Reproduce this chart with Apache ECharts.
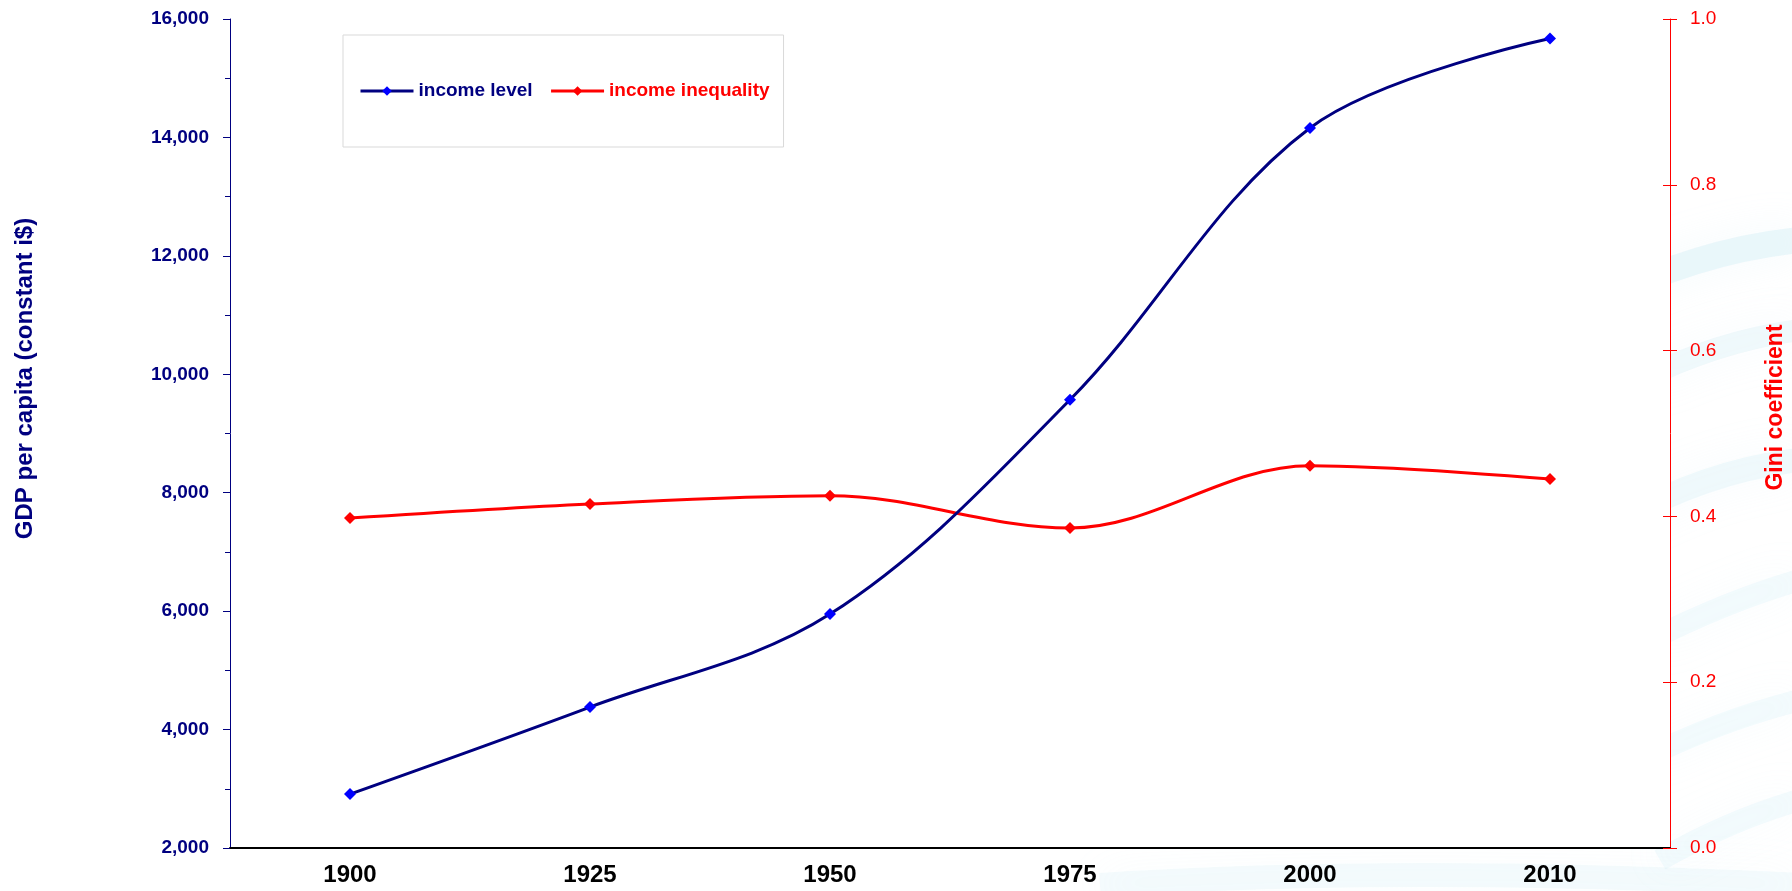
<!DOCTYPE html>
<html>
<head>
<meta charset="utf-8">
<script src="https://cdn.jsdelivr.net/npm/echarts@6/dist/echarts.min.js"></script>
<style>
  html, body { margin: 0; padding: 0; background: #fff; }
  #chart { width: 1792px; height: 891px; }
</style>
</head>
<body>
<div id="chart"></div>
<script>
const categories = ['1900', '1925', '1950', '1975', '2000', '2010'];
const incomeLevel = [2910, 4380, 5950, 9570, 14160, 15670];
const incomeInequality = [0.398, 0.415, 0.425, 0.386, 0.461, 0.445];
const seriesNames = ['income level', 'income inequality'];
const leftAxisTitle = 'GDP per capita (constant i$)';
const rightAxisTitle = 'Gini coefficient';

const NAVY = '#000080';
const RED = '#FF0000';

function swirl(x1, y1, cx, cy, x2, y2, w, op) {
  return {
    type: 'bezierCurve', z: -5, silent: true,
    shape: { x1: x1, y1: y1, cpx1: cx, cpy1: cy, x2: x2, y2: y2 },
    style: { fill: null, stroke: 'rgba(200,234,244,' + op + ')', lineWidth: w,
             shadowBlur: 40, shadowColor: 'rgba(200,234,244,0.5)' }
  };
}

const chart = echarts.init(document.getElementById('chart'), null, { renderer: 'canvas' });
chart.setOption({
  backgroundColor: '#ffffff',
  animation: false,
  graphic: [
    swirl(1600, 300, 1700, 250, 1800, 240, 26, 0.35),
    swirl(1640, 380, 1720, 340, 1800, 330, 22, 0.25),
    swirl(1620, 520, 1710, 470, 1800, 460, 24, 0.25),
    swirl(1650, 640, 1730, 600, 1800, 580, 22, 0.2),
    swirl(1640, 760, 1720, 720, 1800, 700, 22, 0.2),
    swirl(1660, 860, 1730, 820, 1800, 800, 22, 0.2),
    swirl(1100, 885, 1400, 865, 1800, 885, 24, 0.18)
  ],
  grid: {
    left: 230, right: 122, top: 19, bottom: 43,
    outerBoundsMode: 'none',
    containLabel: false,
    show: true, backgroundColor: '#ffffff', borderWidth: 0
  },
  legend: {
    left: 343, top: 35,
    orient: 'horizontal',
    padding: [45, 14, 45, 16],
    backgroundColor: '#ffffff',
    borderColor: '#d9d9d9', borderWidth: 1, borderRadius: 0,
    itemWidth: 53, itemHeight: 12, itemGap: 17,
    lineStyle: { width: 3 },
    textStyle: { fontFamily: 'Liberation Sans', fontWeight: 'bold', fontSize: 19, lineHeight: 22 },
    data: [
      { name: seriesNames[0], textStyle: { color: NAVY } },
      { name: seriesNames[1], textStyle: { color: RED } }
    ]
  },
  xAxis: {
    type: 'category',
    data: categories,
    boundaryGap: true,
    axisLine: { show: true, lineStyle: { color: '#000000', width: 2 } },
    axisTick: { show: false },
    splitLine: { show: false },
    axisLabel: {
      interval: 0, margin: 15, color: '#000000',
      fontFamily: 'Liberation Sans', fontWeight: 'bold', fontSize: 24
    }
  },
  yAxis: [
    {
      type: 'value', position: 'left',
      min: 2000, max: 16000, interval: 2000,
      name: leftAxisTitle, nameLocation: 'middle', nameGap: 193, nameRotate: 90,
      nameTextStyle: { color: NAVY, fontFamily: 'Liberation Sans', fontWeight: 'bold', fontSize: 24, padding: [0, 0, 0, 110] },
      axisLine: { show: true, lineStyle: { color: NAVY, width: 1 } },
      axisTick: { show: true, length: 7, lineStyle: { color: NAVY } },
      minorTick: { show: true, splitNumber: 2, length: 5, lineStyle: { color: NAVY } },
      splitLine: { show: false },
      axisLabel: {
        margin: 21, color: NAVY,
        fontFamily: 'Liberation Sans', fontWeight: 'bold', fontSize: 19,
        formatter: v => v.toLocaleString('en-US')
      }
    },
    {
      type: 'value', position: 'right',
      min: 0, max: 1, interval: 0.2,
      name: rightAxisTitle, nameLocation: 'middle', nameGap: 94, nameRotate: 90,
      nameTextStyle: { color: RED, fontFamily: 'Liberation Sans', fontWeight: 'bold', fontSize: 23, padding: [0, 0, 0, 52] },
      axisLine: { show: true, lineStyle: { color: RED, width: 1 } },
      axisTick: { show: true, length: 7, lineStyle: { color: RED } },
      splitLine: { show: false },
      axisLabel: {
        margin: 20, color: RED,
        fontFamily: 'Liberation Sans', fontSize: 19,
        formatter: v => v.toFixed(1)
      }
    },
    {
      type: 'value', position: 'right',
      min: 0, max: 1, interval: 0.2,
      axisLine: { show: false },
      axisTick: { show: true, inside: true, length: 7, lineStyle: { color: RED } },
      splitLine: { show: false },
      axisLabel: { show: false }
    }
  ],
  series: [
    {
      name: seriesNames[0], type: 'line', yAxisIndex: 0,
      data: incomeLevel, smooth: 0.35,
      symbol: 'diamond', symbolSize: [12, 12],
      lineStyle: { color: NAVY, width: 3 },
      itemStyle: { color: '#0000FF' },
      z: 3
    },
    {
      name: seriesNames[1], type: 'line', yAxisIndex: 1,
      data: incomeInequality, smooth: 0.35,
      symbol: 'diamond', symbolSize: [12, 12],
      lineStyle: { color: RED, width: 3 },
      itemStyle: { color: RED },
      z: 2
    }
  ]
});
</script>
</body>
</html>
